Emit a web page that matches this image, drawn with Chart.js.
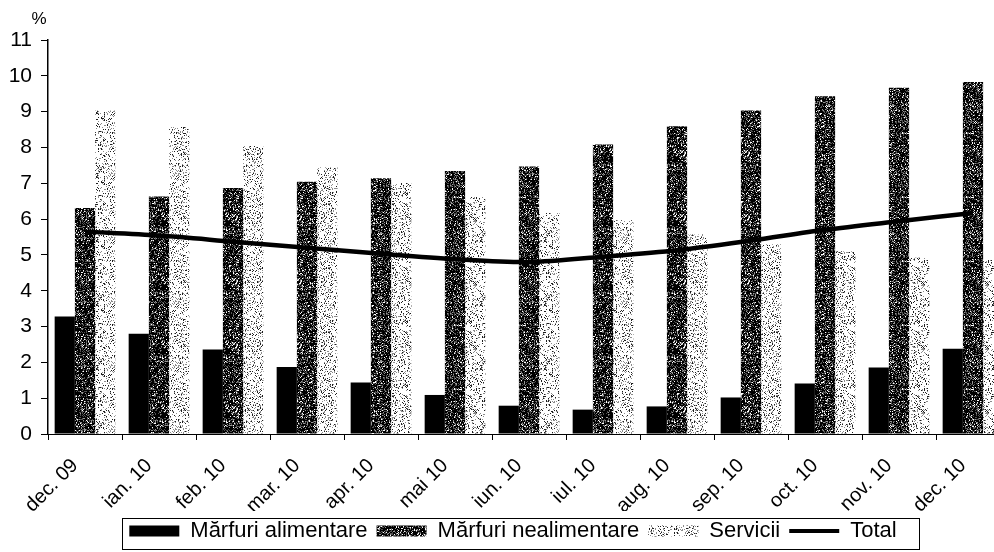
<!DOCTYPE html>
<html>
<head>
<meta charset="utf-8">
<script src="https://cdn.jsdelivr.net/npm/chart.js@4/dist/chart.umd.min.js"></script>
<style>
  html, body { margin: 0; padding: 0; background: #fff; overflow: hidden; width: 994px; height: 552px; }
  #wrap { position: absolute; left: 0; top: 0; width: 1026px; height: 552px; }
</style>
</head>
<body>
<div id="wrap"><canvas id="c" width="1026" height="552"></canvas></div>
<script>
// ---- data ----
const categories = ["dec. 09", "ian. 10", "feb. 10", "mar. 10", "apr. 10", "mai 10", "iun. 10",
                    "iul. 10", "aug. 10", "sep. 10", "oct. 10", "nov. 10", "dec. 10"];
const marfuriAlimentare    = [3.28, 2.80, 2.36, 1.87, 1.44, 1.09, 0.79, 0.68, 0.77, 1.02, 1.41, 1.86, 2.38];
const marfuriNealimentare  = [6.31, 6.63, 6.87, 7.04, 7.14, 7.34, 7.47, 8.08, 8.59, 9.03, 9.43, 9.67, 9.83];
const servicii             = [9.03, 8.57, 8.04, 7.45, 7.01, 6.62, 6.17, 5.97, 5.57, 5.30, 5.10, 4.92, 4.87];
const total                = [5.65, 5.54, 5.37, 5.20, 5.03, 4.88, 4.80, 4.95, 5.13, 5.40, 5.70, 5.94, 6.17];
const yTicks = [0, 1, 2, 3, 4, 5, 6, 7, 8, 9, 10, 11];
const seriesNames = ["Mărfuri alimentare", "Mărfuri nealimentare", "Servicii", "Total"];

// ---- textures (deterministic dither) ----
function hash(x, y, s) {
  let h = Math.imul(x + 17 * s, 374761393) ^ Math.imul(y + 31 * s, 668265263);
  h = Math.imul(h ^ (h >>> 13), 1274126177);
  h = h ^ (h >>> 16);
  return (h >>> 0) / 4294967296;
}
function makePattern(kind) {
  const n = 64;
  const c = document.createElement('canvas');
  c.width = n; c.height = n;
  const g = c.getContext('2d');
  const img = g.createImageData(n, n);
  for (let y = 0; y < n; y++) {
    for (let x = 0; x < n; x++) {
      const h = hash(x, y, kind === 'dark' ? 1 : 2);
      let v;
      if (kind === 'dark') v = h < 0.62 ? 0 : (h < 0.82 ? 80 : (h < 0.93 ? 150 : 255));
      else v = h < 0.10 ? 30 : (h < 0.24 ? 140 : 255);
      const i = (y * n + x) * 4;
      img.data[i] = img.data[i + 1] = img.data[i + 2] = v;
      img.data[i + 3] = 255;
    }
  }
  g.putImageData(img, 0, 0);
  return document.getElementById('c').getContext('2d').createPattern(c, 'repeat');
}
const darkPattern = makePattern('dark');
const lightPattern = makePattern('light');

const FONT = "'Liberation Sans', Arial, sans-serif";

const percentPlugin = {
  id: 'percentLabel',
  afterDraw(chart) {
    const ctx = chart.ctx;
    ctx.save();
    ctx.fillStyle = '#000';
    ctx.font = "17px " + FONT;
    ctx.textAlign = 'center';
    ctx.textBaseline = 'middle';
    ctx.fillText('%', 39, 19);
    ctx.restore();
  }
};

const legendBorderPlugin = {
  id: 'legendBorder',
  afterDraw(chart) {
    const lg = chart.legend;
    if (!lg || !lg.legendHitBoxes || !lg.legendHitBoxes.length) return;
    const hb = lg.legendHitBoxes;
    const first = hb[0], last = hb[hb.length - 1];
    const cy = first.top + first.height / 2;
    const ctx = chart.ctx;
    ctx.save();
    ctx.strokeStyle = '#000';
    ctx.lineWidth = 1;
    const left = Math.round(first.left - 7) + 0.5;
    const right = Math.round(last.left + last.width + 22) + 0.5;
    ctx.strokeRect(left, Math.round(cy - 13) + 0.5, right - left, 31);
    ctx.restore();
  }
};

new Chart(document.getElementById('c'), {
  type: 'bar',
  data: {
    labels: categories,
    datasets: [
      { label: seriesNames[0], data: marfuriAlimentare, backgroundColor: '#000', borderWidth: 0, order: 1,
        categoryPercentage: 0.82, barPercentage: 1.0 },
      { label: seriesNames[1], data: marfuriNealimentare, backgroundColor: darkPattern, borderWidth: 0, order: 1,
        categoryPercentage: 0.82, barPercentage: 1.0 },
      { label: seriesNames[2], data: servicii, backgroundColor: lightPattern, borderWidth: 0, order: 1,
        categoryPercentage: 0.82, barPercentage: 1.0 },
      { type: 'line', label: seriesNames[3], data: total, borderColor: '#000', backgroundColor: '#000',
        borderWidth: 4.5, pointRadius: 0, tension: 0.3, fill: false, order: 0 }
    ]
  },
  options: {
    responsive: false,
    devicePixelRatio: 1,
    animation: false,
    layout: { padding: { left: 0, right: 0, top: 40, bottom: 0 } },
    plugins: {
      tooltip: { enabled: false },
      title: { display: false },
      legend: {
        display: true,
        position: 'bottom',
        labels: {
          usePointStyle: true,
          pointStyleWidth: 50,
          boxHeight: 11,
          padding: 9,
          color: '#000',
          font: { family: FONT, size: 22 },
          generateLabels(chart) {
            return chart.data.datasets.map((ds, i) => ({
              text: ds.label,
              fillStyle: ds.type === 'line' ? '#000' : ds.backgroundColor,
              strokeStyle: '#000',
              lineWidth: ds.type === 'line' ? 4 : 0,
              pointStyle: ds.type === 'line' ? 'line' : 'rect',
              hidden: false,
              datasetIndex: i,
              fontColor: '#000'
            }));
          }
        }
      }
    },
    scales: {
      x: {
        offset: true,
        grid: { display: true, offset: true, drawOnChartArea: false, drawTicks: true, tickLength: 6, color: '#000', lineWidth: 1 },
        border: { display: true, color: '#000', width: 1 },
        ticks: { autoSkip: false, maxRotation: 45, minRotation: 45, color: '#000', padding: 14, labelOffset: -10,
                 font: { family: FONT, size: 20 } },
        afterFit(s) { s.height = 77; }
      },
      y: {
        min: 0, max: 11,
        afterBuildTicks(s) { s.ticks = yTicks.map(v => ({ value: v })); },
        grid: { display: true, drawOnChartArea: false, drawTicks: true, tickLength: 7, color: '#000', lineWidth: 1 },
        border: { display: true, color: '#000', width: 1.5 },
        ticks: { color: '#000', padding: 9, font: { family: FONT, size: 21 } },
        afterFit(s) { s.width = 48; }
      },
      y2: {
        type: 'linear',
        position: 'right',
        display: true,
        grid: { display: false, drawOnChartArea: false },
        border: { display: false },
        ticks: { display: false },
        afterFit(s) { s.width = 16; }
      }
    }
  },
  plugins: [percentPlugin, legendBorderPlugin]
});
</script>
</body>
</html>
